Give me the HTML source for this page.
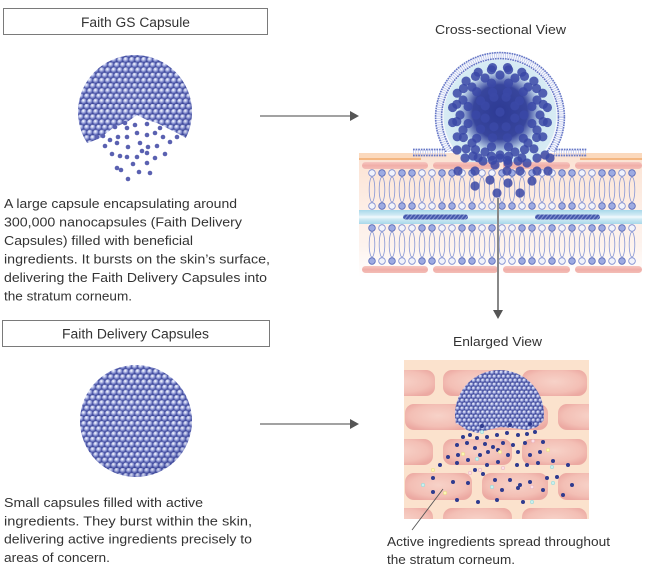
<!DOCTYPE html>
<html>
<head>
<meta charset="utf-8">
<style>
html,body{margin:0;padding:0;background:#fff;}
svg{display:block;}
text{font-family:"Liberation Sans",sans-serif;fill:#333;}
</style>
</head>
<body>
<svg width="646" height="574" viewBox="0 0 646 574" xmlns="http://www.w3.org/2000/svg">
<defs>
  <radialGradient id="ball" cx="0.38" cy="0.33" r="0.7">
    <stop offset="0" stop-color="#ffffff"/>
    <stop offset="0.3" stop-color="#c3caee"/>
    <stop offset="0.72" stop-color="#6a74bf"/>
    <stop offset="1" stop-color="#3d4797"/>
  </radialGradient>
  <pattern id="balls" patternUnits="userSpaceOnUse" width="6" height="10.4">
    <rect width="6" height="10.4" fill="#414b9c"/>
    <circle cx="3" cy="2.6" r="2.95" fill="url(#ball)"/>
    <circle cx="0" cy="7.8" r="2.95" fill="url(#ball)"/>
    <circle cx="6" cy="7.8" r="2.95" fill="url(#ball)"/>
  </pattern>
  <pattern id="ballsS" patternUnits="userSpaceOnUse" width="4.6" height="7.97">
    <rect width="4.6" height="7.97" fill="#353f8f"/>
    <circle cx="2.3" cy="2" r="2.25" fill="url(#ball)"/>
    <circle cx="0" cy="5.98" r="2.25" fill="url(#ball)"/>
    <circle cx="4.6" cy="5.98" r="2.25" fill="url(#ball)"/>
  </pattern>
  <radialGradient id="shade" cx="0.45" cy="0.4" r="0.62">
    <stop offset="0" stop-color="#ffffff" stop-opacity="0.05"/>
    <stop offset="0.75" stop-color="#2a3380" stop-opacity="0"/>
    <stop offset="1" stop-color="#2a3380" stop-opacity="0.2"/>
  </radialGradient>
  <radialGradient id="core" cx="0.5" cy="0.5" r="0.5">
    <stop offset="0" stop-color="#2d3a94" stop-opacity="1"/>
    <stop offset="0.65" stop-color="#303d98" stop-opacity="0.95"/>
    <stop offset="1" stop-color="#3a48a6" stop-opacity="0"/>
  </radialGradient>
  <clipPath id="gsClip">
    <polygon points="70,40 200,40 200,134 186,138 177,133 167,128 157,123 147,120 137,115 127,122 113,128 100,138 88,143 70,143"/>
  </clipPath>
  <clipPath id="enClip">
    <polygon points="450,365 550,365 550,420 543,421 537,427 527,430 513,428 500,427 488,430 477,433 467,430 458,424 450,422"/>
  </clipPath>
  <clipPath id="domeClip">
    <rect x="420" y="40" width="160" height="112"/>
  </clipPath>
  <clipPath id="fluidClip">
    <rect x="420" y="40" width="160" height="122"/>
  </clipPath>
  <clipPath id="enRect">
    <rect x="404" y="360" width="185" height="159"/>
  </clipPath>
  <linearGradient id="memBg" x1="0" y1="0" x2="0" y2="1">
    <stop offset="0" stop-color="#fbe2d2"/>
    <stop offset="0.45" stop-color="#fdeee6"/>
    <stop offset="0.75" stop-color="#fdf3ee"/>
    <stop offset="1" stop-color="#ffffff"/>
  </linearGradient>
  <linearGradient id="pinkBar" x1="0" y1="0" x2="0" y2="1">
    <stop offset="0" stop-color="#f6c7c0"/>
    <stop offset="0.5" stop-color="#f0aea8"/>
    <stop offset="1" stop-color="#f3bdb6"/>
  </linearGradient>
  <linearGradient id="band" x1="0" y1="0" x2="0" y2="1">
    <stop offset="0" stop-color="#a8d8ea"/>
    <stop offset="0.35" stop-color="#cfeaf4"/>
    <stop offset="0.5" stop-color="#f2fafd"/>
    <stop offset="0.65" stop-color="#cfeaf4"/>
    <stop offset="1" stop-color="#a8d8ea"/>
  </linearGradient>
  <pattern id="rodPat" patternUnits="userSpaceOnUse" width="4" height="6" patternTransform="skewX(-40)">
    <rect width="4" height="6" fill="#4558ac"/>
    <rect width="1.3" height="6" fill="#8b9ad6"/>
  </pattern>
  <radialGradient id="fluid" cx="0.5" cy="0.5" r="0.5">
    <stop offset="0" stop-color="#b9d9ea"/>
    <stop offset="1" stop-color="#d8ecf4"/>
  </radialGradient>
  <radialGradient id="cell" cx="0.5" cy="0.45" r="0.6">
    <stop offset="0" stop-color="#f7d2c8"/>
    <stop offset="0.7" stop-color="#f3bfb5"/>
    <stop offset="1" stop-color="#eca9a2"/>
  </radialGradient>
  <g id="lipA">
    <ellipse cx="0" cy="16.5" rx="2.8" ry="12.5" fill="none" stroke="#8596d6" stroke-width="0.8"/>
    <circle cx="0" cy="0" r="3.3" fill="#9dabe2" stroke="#5567b8" stroke-width="0.8"/>
    <circle cx="0" cy="33" r="3.3" fill="#9dabe2" stroke="#5567b8" stroke-width="0.8"/>
  </g>
  <g id="lipB">
    <ellipse cx="0" cy="16.5" rx="2.8" ry="12.5" fill="none" stroke="#8596d6" stroke-width="0.8"/>
    <circle cx="0" cy="0" r="3.3" fill="#f1f3fb" stroke="#7a8ad0" stroke-width="0.8"/>
    <circle cx="0" cy="33" r="3.3" fill="#f1f3fb" stroke="#7a8ad0" stroke-width="0.8"/>
  </g>
</defs>

<!-- ===== Left column ===== -->
<rect x="3.5" y="8.5" width="264" height="26" fill="#fff" stroke="#7a7a7a" stroke-width="1"/>
<text x="135.5" y="27" font-size="13.5" text-anchor="middle" textLength="109" lengthAdjust="spacingAndGlyphs">Faith GS Capsule</text>

<!-- GS capsule -->
<g clip-path="url(#gsClip)">
  <circle cx="135" cy="112" r="57" fill="url(#balls)"/>
  <circle cx="135" cy="112" r="57" fill="url(#shade)"/>
</g>
<g fill="#5a61b1">
  <circle cx="97" cy="137" r="2.3"/><circle cx="103" cy="136" r="2.3"/><circle cx="110" cy="140" r="2.3"/>
  <circle cx="115" cy="127" r="2.3"/><circle cx="125" cy="123" r="2.3"/><circle cx="135" cy="125" r="2.3"/>
  <circle cx="147" cy="124" r="2.3"/><circle cx="127" cy="128" r="2.3"/><circle cx="137" cy="133" r="2.3"/>
  <circle cx="147" cy="135" r="2.3"/><circle cx="155" cy="133" r="2.3"/><circle cx="163" cy="137" r="2.3"/>
  <circle cx="170" cy="142" r="2.3"/><circle cx="105" cy="146" r="2.3"/><circle cx="117" cy="143" r="2.3"/>
  <circle cx="128" cy="147" r="2.3"/><circle cx="140" cy="143" r="2.3"/><circle cx="148" cy="147" r="2.3"/>
  <circle cx="157" cy="146" r="2.3"/><circle cx="112" cy="154" r="2.3"/><circle cx="120" cy="156" r="2.3"/>
  <circle cx="127" cy="157" r="2.3"/><circle cx="137" cy="157" r="2.3"/><circle cx="147" cy="153" r="2.3"/>
  <circle cx="155" cy="158" r="2.3"/><circle cx="165" cy="154" r="2.3"/><circle cx="133" cy="164" r="2.3"/>
  <circle cx="147" cy="163" r="2.3"/><circle cx="117" cy="168" r="2.3"/><circle cx="121" cy="170" r="2.3"/>
  <circle cx="139" cy="172" r="2.3"/><circle cx="150" cy="173" r="2.3"/><circle cx="128" cy="179" r="2.3"/>
  <circle cx="142" cy="151" r="2.3"/><circle cx="118" cy="137" r="2.3"/><circle cx="127" cy="137" r="2.3"/>
  <circle cx="160" cy="128" r="2.3"/><circle cx="177" cy="137" r="2.3"/>
</g>

<g font-size="13">
  <text x="4" y="208" textLength="233" lengthAdjust="spacingAndGlyphs">A large capsule encapsulating around</text>
  <text x="4" y="226.5" textLength="238" lengthAdjust="spacingAndGlyphs">300,000 nanocapsules (Faith Delivery</text>
  <text x="4" y="245" textLength="189" lengthAdjust="spacingAndGlyphs">Capsules) filled with beneficial</text>
  <text x="4" y="263.5" textLength="266" lengthAdjust="spacingAndGlyphs">ingredients. It bursts on the skin’s surface,</text>
  <text x="4" y="282" textLength="263" lengthAdjust="spacingAndGlyphs">delivering the Faith Delivery Capsules into</text>
  <text x="4" y="300.5" textLength="128" lengthAdjust="spacingAndGlyphs">the stratum corneum.</text>
</g>

<rect x="2.5" y="320.5" width="267" height="26" fill="#fff" stroke="#7a7a7a" stroke-width="1"/>
<text x="135.5" y="338.5" font-size="13.5" text-anchor="middle" textLength="147" lengthAdjust="spacingAndGlyphs">Faith Delivery Capsules</text>

<!-- Delivery capsule -->
<circle cx="136" cy="421" r="56" fill="url(#balls)"/>
<circle cx="136" cy="421" r="56" fill="url(#shade)"/>

<g font-size="13">
  <text x="4" y="507" textLength="199" lengthAdjust="spacingAndGlyphs">Small capsules filled with active</text>
  <text x="4" y="525.3" textLength="248" lengthAdjust="spacingAndGlyphs">ingredients. They burst within the skin,</text>
  <text x="4" y="543.7" textLength="248" lengthAdjust="spacingAndGlyphs">delivering active ingredients precisely to</text>
  <text x="4" y="562" textLength="106" lengthAdjust="spacingAndGlyphs">areas of concern.</text>
</g>

<!-- Arrows -->
<line x1="260" y1="116" x2="351" y2="116" stroke="#6a6a6a" stroke-width="1.2"/>
<polygon points="350,111 359,116 350,121" fill="#555"/>
<line x1="260" y1="424" x2="351" y2="424" stroke="#6a6a6a" stroke-width="1.2"/>
<polygon points="350,419 359,424 350,429" fill="#555"/>

<!-- ===== Cross-sectional view ===== -->
<text x="500.5" y="34" font-size="13" text-anchor="middle" textLength="131" lengthAdjust="spacingAndGlyphs">Cross-sectional View</text>

<rect x="359" y="153" width="283" height="124" fill="url(#memBg)"/>
<rect x="359" y="153" width="62" height="7" fill="#fbd9bd"/>
<rect x="580" y="153" width="62" height="7" fill="#fbd9bd"/>
<line x1="359" y1="159" x2="421" y2="159" stroke="#efa35f" stroke-width="1.3"/>
<line x1="580" y1="159" x2="642" y2="159" stroke="#efa35f" stroke-width="1.3"/>

<g fill="url(#pinkBar)">
  <rect x="362" y="162" width="66" height="7" rx="3.5"/>
  <rect x="433" y="162" width="65" height="7" rx="3.5"/>
  <rect x="503" y="162" width="67" height="7" rx="3.5"/>
  <rect x="575" y="162" width="67" height="7" rx="3.5"/>
  <rect x="362" y="266" width="66" height="7" rx="3.5"/>
  <rect x="433" y="266" width="65" height="7" rx="3.5"/>
  <rect x="503" y="266" width="67" height="7" rx="3.5"/>
  <rect x="575" y="266" width="67" height="7" rx="3.5"/>
</g>

<!-- band -->
<rect x="359" y="210" width="283" height="14" fill="url(#band)"/>

<!-- upper bilayer -->
<g transform="translate(0,173)">
  <use href="#lipB" x="372"/><use href="#lipA" x="382"/><use href="#lipB" x="392"/><use href="#lipA" x="402"/>
  <use href="#lipA" x="412"/><use href="#lipB" x="422"/><use href="#lipB" x="432"/><use href="#lipA" x="442"/>
  <use href="#lipA" x="452"/><use href="#lipB" x="462"/><use href="#lipA" x="472"/><use href="#lipB" x="482"/>
  <use href="#lipB" x="492"/><use href="#lipA" x="502"/><use href="#lipA" x="512"/><use href="#lipB" x="522"/>
  <use href="#lipA" x="532"/><use href="#lipB" x="542"/><use href="#lipB" x="552"/><use href="#lipA" x="562"/>
  <use href="#lipA" x="572"/><use href="#lipB" x="582"/><use href="#lipB" x="592"/><use href="#lipA" x="602"/>
  <use href="#lipA" x="612"/><use href="#lipB" x="622"/><use href="#lipA" x="632"/>
</g>
<!-- lower bilayer -->
<g transform="translate(0,228)">
  <use href="#lipA" x="372"/><use href="#lipB" x="382"/><use href="#lipA" x="392"/><use href="#lipB" x="402"/>
  <use href="#lipB" x="412"/><use href="#lipA" x="422"/><use href="#lipA" x="432"/><use href="#lipB" x="442"/>
  <use href="#lipB" x="452"/><use href="#lipA" x="462"/><use href="#lipA" x="472"/><use href="#lipB" x="482"/>
  <use href="#lipA" x="492"/><use href="#lipB" x="502"/><use href="#lipB" x="512"/><use href="#lipA" x="522"/>
  <use href="#lipA" x="532"/><use href="#lipB" x="542"/><use href="#lipA" x="552"/><use href="#lipB" x="562"/>
  <use href="#lipA" x="572"/><use href="#lipB" x="582"/><use href="#lipA" x="592"/><use href="#lipA" x="602"/>
  <use href="#lipB" x="612"/><use href="#lipA" x="622"/><use href="#lipB" x="632"/>
</g>

<!-- rods -->
<rect x="403" y="214.5" width="65" height="5" rx="2.5" fill="url(#rodPat)"/>
<rect x="535" y="214.5" width="65" height="5" rx="2.5" fill="url(#rodPat)"/>

<!-- dome -->
<g clip-path="url(#domeClip)">
  <circle cx="500" cy="117" r="65" fill="#f8f9fd"/>
  <circle cx="500" cy="117" r="61.5" fill="none" stroke="#bcc5ec" stroke-width="4.5" stroke-dasharray="0.8 1.4"/>
  <circle cx="500" cy="117" r="64.4" fill="none" stroke="#6677c6" stroke-width="1.6" stroke-dasharray="1.7 0.8"/>
  <circle cx="500" cy="117" r="58.4" fill="none" stroke="#6677c6" stroke-width="1.6" stroke-dasharray="1.7 0.8"/>
</g>
<g clip-path="url(#fluidClip)">
  <circle cx="500" cy="116" r="56.5" fill="url(#fluid)"/>
</g>
<!-- flares -->
<g stroke="#6677c6" fill="none">
  <line x1="413" y1="152.5" x2="446" y2="152.5" stroke="#bcc5ec" stroke-width="5" stroke-dasharray="0.8 1.6"/>
  <line x1="554" y1="152.5" x2="587" y2="152.5" stroke="#bcc5ec" stroke-width="5" stroke-dasharray="0.8 1.6"/>
  <line x1="413" y1="149.5" x2="444" y2="149.5" stroke-width="1.8" stroke-dasharray="1.7 0.9"/>
  <line x1="413" y1="155.5" x2="447" y2="155.5" stroke-width="1.8" stroke-dasharray="1.7 0.9"/>
  <line x1="556" y1="149.5" x2="587" y2="149.5" stroke-width="1.8" stroke-dasharray="1.7 0.9"/>
  <line x1="553" y1="155.5" x2="587" y2="155.5" stroke-width="1.8" stroke-dasharray="1.7 0.9"/>
</g>

<!-- particles -->
<circle cx="500" cy="112" r="42" fill="url(#core)"/>
<g fill="#3a48a6" fill-opacity="0.86">
  <!-- r40 ring -->
  <circle cx="540" cy="115" r="4.6"/><circle cx="537" cy="130" r="4.6"/><circle cx="528" cy="143" r="4.6"/>
  <circle cx="515" cy="152" r="4.6"/><circle cx="500" cy="155" r="4.6"/><circle cx="485" cy="152" r="4.6"/>
  <circle cx="472" cy="143" r="4.6"/><circle cx="463" cy="130" r="4.6"/><circle cx="460" cy="115" r="4.6"/>
  <circle cx="463" cy="100" r="4.6"/><circle cx="472" cy="87" r="4.6"/><circle cx="485" cy="78" r="4.6"/>
  <circle cx="500" cy="75" r="4.6"/><circle cx="515" cy="78" r="4.6"/><circle cx="528" cy="87" r="4.6"/>
  <circle cx="537" cy="100" r="4.6"/>
  <!-- r48 ring -->
  <circle cx="547.4" cy="122.5" r="4.6"/><circle cx="542.8" cy="136.8" r="4.6"/><circle cx="533.9" cy="148.9" r="4.6"/>
  <circle cx="521.8" cy="157.8" r="4.6"/><circle cx="507.5" cy="160.4" r="4.6"/><circle cx="492.5" cy="160.4" r="4.6"/>
  <circle cx="478.2" cy="157.8" r="4.6"/><circle cx="466.1" cy="148.9" r="4.6"/><circle cx="457.2" cy="136.8" r="4.6"/>
  <circle cx="452.6" cy="122.5" r="4.6"/><circle cx="452.6" cy="107.5" r="4.6"/><circle cx="457.2" cy="93.2" r="4.6"/>
  <circle cx="466.1" cy="81.1" r="4.6"/><circle cx="478.2" cy="72.2" r="4.6"/><circle cx="492.5" cy="67.6" r="4.6"/>
  <circle cx="507.5" cy="67.6" r="4.6"/><circle cx="521.8" cy="72.2" r="4.6"/><circle cx="533.9" cy="81.1" r="4.6"/>
  <circle cx="542.8" cy="93.2" r="4.6"/><circle cx="547.4" cy="107.5" r="4.6"/>
  <!-- r44 offset ring -->
  <circle cx="543.2" cy="121.6" r="4.6"/><circle cx="536.6" cy="137.5" r="4.6"/><circle cx="524.5" cy="149.6" r="4.6"/>
  <circle cx="508.6" cy="156.2" r="4.6"/><circle cx="491.4" cy="156.2" r="4.6"/><circle cx="475.5" cy="149.6" r="4.6"/>
  <circle cx="463.4" cy="137.5" r="4.6"/><circle cx="456.8" cy="121.6" r="4.6"/><circle cx="456.8" cy="104.4" r="4.6"/>
  <circle cx="463.4" cy="88.5" r="4.6"/><circle cx="475.5" cy="76.4" r="4.6"/><circle cx="491.4" cy="69.8" r="4.6"/>
  <circle cx="508.6" cy="69.8" r="4.6"/><circle cx="524.5" cy="76.4" r="4.6"/><circle cx="536.6" cy="88.5" r="4.6"/>
  <circle cx="543.2" cy="104.4" r="4.6"/>
  <!-- r33 ring -->
  <circle cx="531.9" cy="123.5" r="4.6"/><circle cx="523.3" cy="138.3" r="4.6"/><circle cx="508.5" cy="146.9" r="4.6"/>
  <circle cx="491.5" cy="146.9" r="4.6"/><circle cx="476.7" cy="138.3" r="4.6"/><circle cx="468.1" cy="123.5" r="4.6"/>
  <circle cx="468.1" cy="106.5" r="4.6"/><circle cx="476.7" cy="91.7" r="4.6"/><circle cx="491.5" cy="83.1" r="4.6"/>
  <circle cx="508.5" cy="83.1" r="4.6"/><circle cx="523.3" cy="91.7" r="4.6"/><circle cx="531.9" cy="106.5" r="4.6"/>
  <!-- r24 ring -->
  <circle cx="524" cy="115" r="4.6"/><circle cx="519.4" cy="129.1" r="4.6"/><circle cx="507.4" cy="137.8" r="4.6"/>
  <circle cx="492.6" cy="137.8" r="4.6"/><circle cx="480.6" cy="129.1" r="4.6"/><circle cx="476" cy="115" r="4.6"/>
  <circle cx="480.6" cy="100.9" r="4.6"/><circle cx="492.6" cy="92.2" r="4.6"/><circle cx="507.4" cy="92.2" r="4.6"/>
  <circle cx="519.4" cy="100.9" r="4.6"/>
  <!-- r16 ring -->
  <circle cx="514.8" cy="118.1" r="4.6"/><circle cx="506.1" cy="126.8" r="4.6"/><circle cx="493.9" cy="126.8" r="4.6"/>
  <circle cx="485.2" cy="118.1" r="4.6"/><circle cx="485.2" cy="105.9" r="4.6"/><circle cx="493.9" cy="97.2" r="4.6"/>
  <circle cx="506.1" cy="97.2" r="4.6"/><circle cx="514.8" cy="105.9" r="4.6"/><circle cx="500" cy="112" r="4.6"/>
  <!-- spreading below -->
  <circle cx="457" cy="150" r="4.6"/><circle cx="465" cy="158" r="4.6"/><circle cx="473" cy="156" r="4.6"/>
  <circle cx="483" cy="161" r="4.6"/><circle cx="495" cy="165" r="4.6"/><circle cx="500" cy="158" r="4.6"/>
  <circle cx="508" cy="163" r="4.6"/><circle cx="518" cy="161" r="4.6"/><circle cx="527" cy="163" r="4.6"/>
  <circle cx="537" cy="158" r="4.6"/><circle cx="545" cy="155" r="4.6"/><circle cx="550" cy="158" r="4.6"/>
  <circle cx="458" cy="171" r="4.6"/><circle cx="475" cy="171" r="4.6"/><circle cx="507" cy="171" r="4.6"/>
  <circle cx="520" cy="171" r="4.6"/><circle cx="537" cy="171" r="4.6"/><circle cx="548" cy="171" r="4.6"/>
  <circle cx="490" cy="180" r="4.6"/><circle cx="508" cy="183" r="4.6"/><circle cx="532" cy="181" r="4.6"/>
  <circle cx="475" cy="186" r="4.6"/><circle cx="497" cy="193" r="4.6"/><circle cx="520" cy="193" r="4.6"/>
</g>

<!-- vertical arrow -->
<line x1="498" y1="198" x2="498" y2="311" stroke="#888" stroke-width="2"/>
<polygon points="493,310 503,310 498,319" fill="#555"/>

<!-- ===== Enlarged view ===== -->
<text x="497.5" y="346" font-size="13" text-anchor="middle" textLength="89" lengthAdjust="spacingAndGlyphs">Enlarged View</text>

<rect x="404" y="360" width="185" height="159" fill="#fbe2cd"/>
<g clip-path="url(#enRect)" fill="url(#cell)">
  <rect x="366" y="370" width="69" height="26" rx="9"/>
  <rect x="443" y="370" width="69" height="26" rx="9"/>
  <rect x="522" y="370" width="65" height="26" rx="9"/>
  <rect x="405" y="404" width="67" height="26" rx="9"/>
  <rect x="482" y="404" width="66" height="26" rx="9"/>
  <rect x="558" y="404" width="67" height="26" rx="9"/>
  <rect x="366" y="439" width="67" height="26" rx="9"/>
  <rect x="443" y="439" width="69" height="26" rx="9"/>
  <rect x="522" y="439" width="65" height="26" rx="9"/>
  <rect x="405" y="473" width="67" height="27" rx="9"/>
  <rect x="482" y="473" width="66" height="27" rx="9"/>
  <rect x="558" y="473" width="67" height="27" rx="9"/>
  <rect x="366" y="508" width="67" height="26" rx="9"/>
  <rect x="443" y="508" width="69" height="26" rx="9"/>
  <rect x="522" y="508" width="65" height="26" rx="9"/>
</g>

<g clip-path="url(#enClip)">
  <circle cx="499.5" cy="414.5" r="44.5" fill="url(#ballsS)"/>
  <circle cx="499.5" cy="414.5" r="44.5" fill="url(#shade)"/>
</g>

<g fill="#2f3b8f">
  <circle cx="463" cy="437" r="2"/><circle cx="470" cy="435" r="2"/><circle cx="477" cy="438" r="2"/>
  <circle cx="487" cy="437" r="2"/><circle cx="497" cy="435" r="2"/><circle cx="507" cy="433" r="2"/>
  <circle cx="518" cy="435" r="2"/><circle cx="527" cy="434" r="2"/><circle cx="535" cy="432" r="2"/>
  <circle cx="457" cy="445" r="2"/><circle cx="467" cy="443" r="2"/><circle cx="475" cy="448" r="2"/>
  <circle cx="485" cy="444" r="2"/><circle cx="493" cy="447" r="2"/><circle cx="503" cy="443" r="2"/>
  <circle cx="513" cy="445" r="2"/><circle cx="525" cy="443" r="2"/><circle cx="543" cy="442" r="2"/>
  <circle cx="448" cy="457" r="2"/><circle cx="458" cy="455" r="2"/><circle cx="468" cy="460" r="2"/>
  <circle cx="480" cy="455" r="2"/><circle cx="488" cy="452" r="2"/><circle cx="498" cy="450" r="2"/>
  <circle cx="508" cy="455" r="2"/><circle cx="518" cy="452" r="2"/><circle cx="530" cy="455" r="2"/>
  <circle cx="540" cy="452" r="2"/><circle cx="553" cy="461" r="2"/>
  <circle cx="440" cy="465" r="2"/><circle cx="457" cy="463" r="2"/><circle cx="475" cy="470" r="2"/>
  <circle cx="487" cy="465" r="2"/><circle cx="498" cy="462" r="2"/><circle cx="517" cy="465" r="2"/>
  <circle cx="527" cy="465" r="2"/><circle cx="538" cy="463" r="2"/><circle cx="568" cy="465" r="2"/>
  <circle cx="433" cy="478" r="2"/><circle cx="453" cy="482" r="2"/><circle cx="468" cy="483" r="2"/>
  <circle cx="483" cy="474" r="2"/><circle cx="495" cy="480" r="2"/><circle cx="510" cy="480" r="2"/>
  <circle cx="520" cy="485" r="2"/><circle cx="530" cy="482" r="2"/><circle cx="547" cy="478" r="2"/>
  <circle cx="557" cy="477" r="2"/><circle cx="572" cy="485" r="2"/>
  <circle cx="433" cy="492" r="2"/><circle cx="457" cy="500" r="2"/><circle cx="478" cy="502" r="2"/>
  <circle cx="497" cy="500" r="2"/><circle cx="502" cy="490" r="2"/><circle cx="518" cy="488" r="2"/>
  <circle cx="543" cy="490" r="2"/><circle cx="563" cy="495" r="2"/><circle cx="523" cy="502" r="2"/>
  <circle cx="482" cy="426" r="2"/><circle cx="510" cy="425" r="2"/><circle cx="530" cy="424" r="2"/>
</g>
<g stroke-width="0.5">
  <circle cx="423" cy="485" r="1.8" fill="#c9f0ef" stroke="#8fd2d0"/>
  <circle cx="445" cy="493" r="1.8" fill="#fbf4b8" stroke="#e6d77a"/>
  <circle cx="433" cy="470" r="1.8" fill="#fbf4b8" stroke="#e6d77a"/>
  <circle cx="463" cy="454" r="1.8" fill="#fbf4b8" stroke="#e6d77a"/>
  <circle cx="477" cy="459" r="1.8" fill="#c9f0ef" stroke="#8fd2d0"/>
  <circle cx="500" cy="452" r="1.8" fill="#fbf4b8" stroke="#e6d77a"/>
  <circle cx="548" cy="450" r="1.8" fill="#fbf4b8" stroke="#e6d77a"/>
  <circle cx="552" cy="467" r="1.8" fill="#c9f0ef" stroke="#8fd2d0"/>
  <circle cx="553" cy="483" r="1.8" fill="#c9f0ef" stroke="#8fd2d0"/>
  <circle cx="532" cy="487" r="1.8" fill="#fbe0e6" stroke="#e8a9b6"/>
  <circle cx="532" cy="502" r="1.8" fill="#c9f0ef" stroke="#8fd2d0"/>
  <circle cx="492" cy="487" r="1.8" fill="#c9f0ef" stroke="#8fd2d0"/>
  <circle cx="480" cy="470" r="1.8" fill="#fbe0e6" stroke="#e8a9b6"/>
  <circle cx="470" cy="473" r="1.8" fill="#fbe0e6" stroke="#e8a9b6"/>
  <circle cx="503" cy="468" r="1.8" fill="#fbe0e6" stroke="#e8a9b6"/>
  <circle cx="533" cy="441" r="1.8" fill="#fbe0e6" stroke="#e8a9b6"/>
  <circle cx="482" cy="432" r="1.8" fill="#c9f0ef" stroke="#8fd2d0"/>
</g>

<line x1="412" y1="530" x2="443" y2="489" stroke="#555" stroke-width="0.9"/>

<g font-size="13">
  <text x="387" y="546" textLength="223" lengthAdjust="spacingAndGlyphs">Active ingredients spread throughout</text>
  <text x="387" y="564" textLength="128" lengthAdjust="spacingAndGlyphs">the stratum corneum.</text>
</g>
</svg>
</body>
</html>
